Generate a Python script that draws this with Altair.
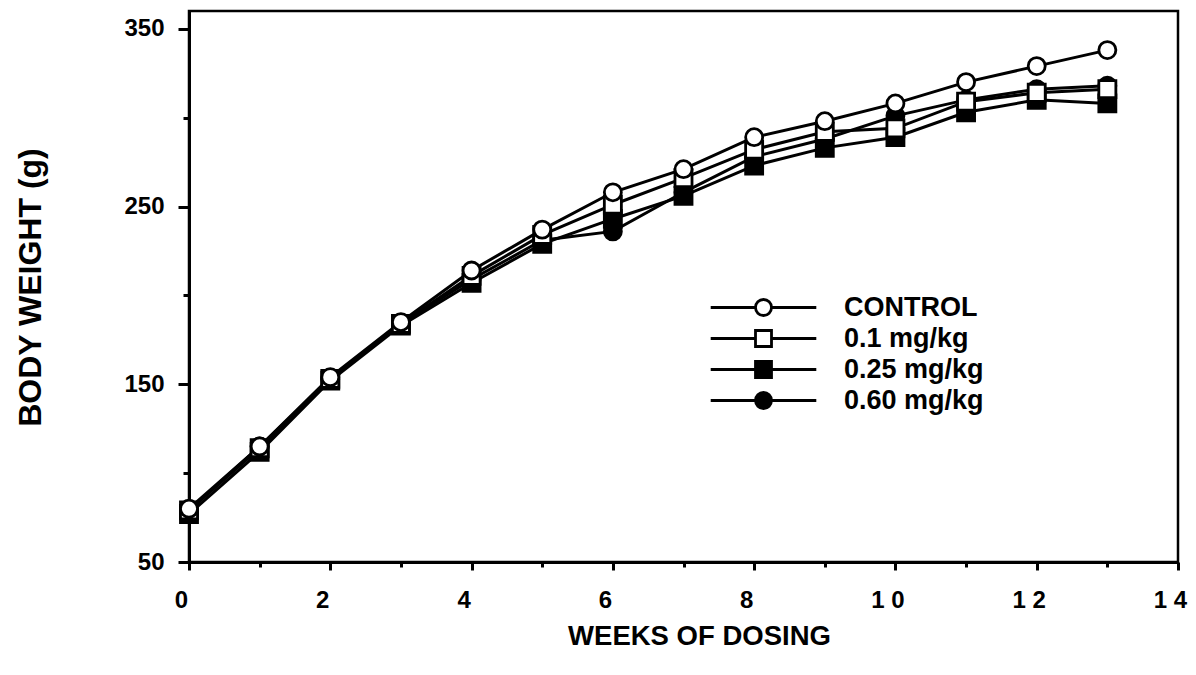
import altair as alt
import pandas as pd

# ---- data ----
weeks = list(range(14))
series_names = ["CONTROL", "0.1 mg/kg", "0.25 mg/kg", "0.60 mg/kg"]
control = [80, 115, 154, 185, 214, 237, 258, 271, 289, 298, 308, 320, 329, 338]
dose_01 = [79, 114, 153, 184, 211, 234, 251, 266, 282, 292, 294, 309, 314, 316]
dose_025 = [77, 112, 152, 183, 207, 229, 243, 256, 273, 283, 289, 303, 310, 308]
dose_060 = [79, 115, 153, 184, 209, 231, 236, 258, 278, 288, 301, 310, 316, 318]

x_ticks = list(range(15))
y_ticks = [50, 100, 150, 200, 250, 300, 350]

chart_shapes = ["circle", "square", "square", "circle"]
fills = ["white", "white", "black", "black"]
strokes = ["black", "black", "black", "black"]
circle_path = "M-6.6,0H-1M1,0H6.6M-1,0A1,1,0,1,1,1,0A1,1,0,1,1,-1,0Z"
square_path = "M-6.6,0H-1M1,0H6.6M-1,-1H1V1H-1Z"
legend_shapes = [circle_path, square_path, square_path, circle_path]

rows = []
for name, vals in zip(series_names, [control, dose_01, dose_025, dose_060]):
    for w, v in zip(weeks, vals):
        rows.append({"week": w, "weight": v, "series": name})
df = pd.DataFrame(rows)
# draw control last (on top)
df["order"] = df["series"].map({n: i for i, n in enumerate(series_names[::-1])})
df = df.sort_values(["order", "week"])

FONT = "Liberation Sans"

xscale = alt.Scale(domain=[0, 14], nice=False)
yscale = alt.Scale(domain=[50, 360], nice=False, zero=False)

xaxis = alt.Axis(
    values=x_ticks,
    labelExpr="datum.value % 2 == 0 ? (datum.value >= 10 ? '1 ' + (datum.value - 10) : '' + datum.value) : ''",
    tickSize={"condition": {"test": "datum.value % 2 == 0", "value": 8}, "value": 5},
    labelFlush=False,
    labelOffset=-8,
    labelPadding=18,
    labelFontSize=24,
    labelFont=FONT,
    labelFontWeight="bold",
    labelColor="black",
    domainColor="black",
    tickColor="black",
    domainWidth=3,
    tickWidth=3,
    grid=False,
    title="WEEKS OF DOSING",
    titleFont=FONT,
    titleFontSize=27.5,
    titleFontWeight="bold",
    titleColor="black",
    titlePadding=10,
    titleX=510,
)
yaxis = alt.Axis(
    values=y_ticks,
    labelExpr="datum.value % 100 == 50 ? '' + datum.value : ''",
    tickSize={"condition": {"test": "datum.value % 100 == 50", "value": 11}, "value": 6},
    labelPadding=14,
    labelFontSize=24,
    labelFont=FONT,
    labelFontWeight="bold",
    labelColor="black",
    domainColor="black",
    tickColor="black",
    domainWidth=3,
    tickWidth=3,
    grid=False,
    title="BODY WEIGHT (g)",
    titleFont=FONT,
    titleFontSize=32,
    titleFontWeight="bold",
    titleColor="black",
    titlePadding=76,
    titleY=276,
)

base = alt.Chart(df)

lines = base.mark_line(color="black", strokeWidth=3).encode(
    x=alt.X("week:Q", scale=xscale, axis=xaxis),
    y=alt.Y("weight:Q", scale=yscale, axis=yaxis),
    detail="series:N",
    order="week:Q",
)

points = base.mark_point(stroke="black", strokeWidth=2.8, size=290, opacity=1).encode(
    x=alt.X("week:Q", scale=xscale),
    y=alt.Y("weight:Q", scale=yscale),
    shape=alt.Shape("series:N", scale=alt.Scale(domain=series_names, range=chart_shapes), legend=None),
    fill=alt.Fill("series:N", scale=alt.Scale(domain=series_names, range=fills), legend=None),
)

legend_props = dict(
    orient="none",
    legendX=561,
    legendY=283,
    title=None,
    padding=0,
    labelFont=FONT,
    labelFontSize=27,
    labelFontWeight="bold",
    labelColor="black",
    labelOffset=67,
    labelLimit=0,
    symbolSize=256,
    symbolStrokeWidth=2.8,
    symbolStrokeColor="black",
    symbolOpacity=1,
    rowPadding=2,
)

legend_layer = base.transform_filter("datum.week < 0").mark_point(
    strokeWidth=2.8, size=256, opacity=1
).encode(
    x=alt.X("week:Q", scale=xscale),
    y=alt.Y("weight:Q", scale=yscale),
    shape=alt.Shape("series:N", scale=alt.Scale(domain=series_names, range=legend_shapes),
                    legend=alt.Legend(**legend_props)),
    fill=alt.Fill("series:N", scale=alt.Scale(domain=series_names, range=fills),
                  legend=alt.Legend(**legend_props)),
    stroke=alt.Stroke("series:N", scale=alt.Scale(domain=series_names, range=strokes),
                      legend=alt.Legend(**legend_props)),
)

chart = alt.layer(lines, points, legend_layer).resolve_scale(
    shape="independent", fill="independent", stroke="independent"
).properties(
    width=989,
    height=551,
    autosize=alt.AutoSizeParams(type="none"),
    padding={"left": 181, "top": 3, "right": 10, "bottom": 100},
    background="white",
).configure_view(stroke="black", strokeWidth=2.5)

chart.save("out.html", embed_options={"renderer": "svg", "actions": False})
